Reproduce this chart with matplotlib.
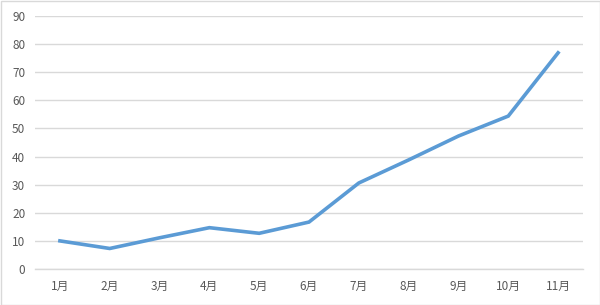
import matplotlib
matplotlib.use("Agg")
import matplotlib.pyplot as plt
from matplotlib.patches import Rectangle

plt.rcParams['font.family'] = ['Noto Sans CJK SC', 'DejaVu Sans']

# Data
months = ["1月", "2月", "3月", "4月", "5月", "6月", "7月", "8月", "9月", "10月", "11月"]
values = [10.0, 7.3, 11.1, 14.7, 12.7, 16.7, 30.6, 38.8, 47.3, 54.4, 76.9]
y_ticks = [0, 10, 20, 30, 40, 50, 60, 70, 80, 90]

line_color = "#5B9BD5"
grid_color = "#D9D9D9"
text_color = "#595959"

fig = plt.figure(figsize=(6.0, 3.05), dpi=100)
ax = fig.add_axes([35 / 600, 1 - 269 / 305, 548 / 600, 253 / 305])

x = range(len(months))
ax.plot(x, values, color=line_color, linewidth=2.6, solid_joinstyle="miter")

ax.set_xlim(-0.5, len(months) - 0.5)
ax.set_ylim(0, 90)
ax.set_yticks(y_ticks)
ax.set_xticks(list(x))
ax.set_xticklabels(months)

# Horizontal gridlines only, Excel style
ax.grid(axis="y", color=grid_color, linewidth=1.0)
ax.set_axisbelow(True)
for side in ["top", "right", "left"]:
    ax.spines[side].set_visible(False)
ax.spines["bottom"].set_color(grid_color)
ax.spines["bottom"].set_linewidth(1.0)

ax.tick_params(axis="both", length=0, labelsize=8.5, labelcolor=text_color)
ax.tick_params(axis="y", pad=7)
ax.tick_params(axis="x", pad=8)

# Light border round the whole chart area
fig.patches.append(Rectangle((0.5 / 600, 0.5 / 305), 599 / 600, 304 / 305,
                             transform=fig.transFigure, fill=False,
                             edgecolor=grid_color, linewidth=1.0))

fig.savefig("out.png", dpi=100)
